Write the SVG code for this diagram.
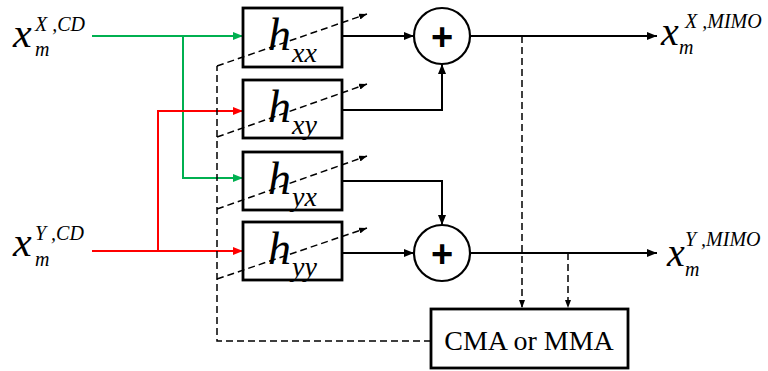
<svg xmlns="http://www.w3.org/2000/svg" width="768" height="371" viewBox="0 0 768 371">
<style>
.box{fill:#fff;stroke:#000;stroke-width:2.8}
.sum{fill:#fff;stroke:#000;stroke-width:2.2}
.ln{fill:none;stroke:#000;stroke-width:2}
.g{fill:none;stroke:#00b050;stroke-width:2}
.r{fill:none;stroke:#ff0000;stroke-width:2}
.d{fill:none;stroke:#000;stroke-width:1.5;stroke-dasharray:7 4}
.sf{font-family:'Liberation Serif','Times New Roman','DejaVu Serif',serif}
</style>
<defs>
<marker id="ak" markerWidth="10" markerHeight="8" refX="10" refY="4" orient="auto" markerUnits="userSpaceOnUse"><path d="M0,0 L10,4 L0,8 z" fill="#000"/></marker>
<marker id="ag" markerWidth="10" markerHeight="8" refX="10" refY="4" orient="auto" markerUnits="userSpaceOnUse"><path d="M0,0 L10,4 L0,8 z" fill="#00b050"/></marker>
<marker id="ar" markerWidth="10" markerHeight="8" refX="10" refY="4" orient="auto" markerUnits="userSpaceOnUse"><path d="M0,0 L10,4 L0,8 z" fill="#ff0000"/></marker>
<marker id="ad" markerWidth="8" markerHeight="6" refX="8" refY="3" orient="auto" markerUnits="userSpaceOnUse"><path d="M0,0 L8,3 L0,6 z" fill="#000"/></marker>
</defs>
<rect width="768" height="371" fill="#fff"/>

<g class="sf" font-style="italic" fill="#000">
<g id="label-in-x">
<text class="sf" x="13" y="47" font-size="42">x</text>
<text class="sf" x="35" y="56" font-size="20">m</text>
<text class="sf" x="35" y="31" font-size="20">X ,CD</text>
</g>
<g id="label-in-y">
<text class="sf" x="13" y="256" font-size="42">x</text>
<text class="sf" x="35" y="266" font-size="20">m</text>
<text class="sf" x="35" y="240" font-size="20">Y ,CD</text>
</g>
<g id="label-out-x">
<text class="sf" x="661" y="45" font-size="40">x</text>
<text class="sf" x="679" y="54" font-size="20">m</text>
<text class="sf" x="685" y="28" font-size="20">X ,MIMO</text>
</g>
<g id="label-out-y">
<text class="sf" x="667" y="266" font-size="40">x</text>
<text class="sf" x="685" y="276" font-size="20">m</text>
<text class="sf" x="685" y="246" font-size="20">Y ,MIMO</text>
</g>
</g>

<g id="connectors">
<path class="g" d="M92,36 H243" marker-end="url(#ag)"/>
<path class="g" d="M183,36 V178 H243" marker-end="url(#ag)"/>
<path class="r" d="M92,251 H243" marker-end="url(#ar)"/>
<path class="r" d="M158,251 V111 H243" marker-end="url(#ar)"/>
<path class="ln" d="M342,36 H414" marker-end="url(#ak)"/>
<path class="ln" d="M342,110 H442 V64" marker-end="url(#ak)"/>
<path class="ln" d="M342,181 H442 V225" marker-end="url(#ak)"/>
<path class="ln" d="M342,253 H414" marker-end="url(#ak)"/>
<path class="ln" d="M470,36 H657" marker-end="url(#ak)"/>
<path class="ln" d="M470,253 H657" marker-end="url(#ak)"/>
<path class="d" d="M522,36 V308" marker-end="url(#ad)"/>
<path class="d" d="M568,253 V308" marker-end="url(#ad)"/>
<path class="d" d="M431,341 H217 V66"/>
</g>

<g class="sf" font-style="italic" fill="#000">
<g id="hxx">
<rect class="box" x="243" y="8" width="99" height="59"/>
<text class="sf" x="268" y="50" font-size="46">h</text>
<text class="sf" x="292" y="62" font-size="28">xx</text>
</g>
<g id="hxy">
<rect class="box" x="243" y="80" width="99" height="58"/>
<text class="sf" x="268" y="122" font-size="46">h</text>
<text class="sf" x="292" y="134" font-size="28">xy</text>
</g>
<g id="hyx">
<rect class="box" x="243" y="152" width="99" height="58"/>
<text class="sf" x="268" y="194" font-size="46">h</text>
<text class="sf" x="292" y="206" font-size="28">yx</text>
</g>
<g id="hyy">
<rect class="box" x="243" y="222" width="99" height="58"/>
<text class="sf" x="268" y="264" font-size="46">h</text>
<text class="sf" x="292" y="276" font-size="28">yy</text>
</g>
</g>

<g id="adapt">
<path class="d" d="M217,66 L367,14" marker-end="url(#ad)"/>
<path class="d" d="M217,137 L367,84" marker-end="url(#ad)"/>
<path class="d" d="M217,209 L367,156" marker-end="url(#ad)"/>
<path class="d" d="M217,279 L367,228" marker-end="url(#ad)"/>
</g>

<g font-family="'Liberation Sans', sans-serif" font-weight="bold" fill="#000">
<g id="sum1">
<circle class="sum" cx="442" cy="36" r="28"/>
<text x="442" y="50" font-size="38" text-anchor="middle">+</text>
</g>
<g id="sum2">
<circle class="sum" cx="442" cy="253" r="28"/>
<text x="442" y="267" font-size="38" text-anchor="middle">+</text>
</g>
</g>

<g id="cma">
<rect class="box" x="431" y="309" width="197" height="59"/>
<text class="sf" x="529" y="350" font-size="28" text-anchor="middle" fill="#000">CMA or MMA</text>
</g>
</svg>
